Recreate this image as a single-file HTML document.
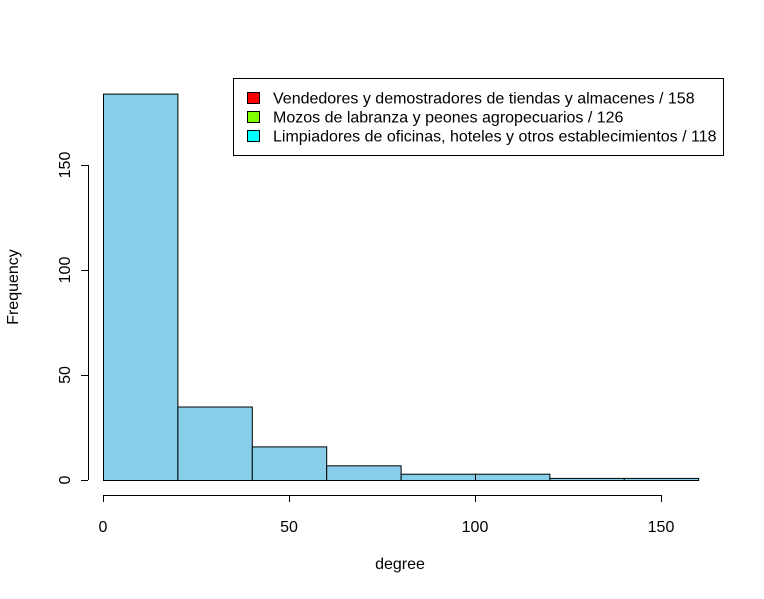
<!DOCTYPE html>
<html><head><meta charset="utf-8"><style>
body{margin:0;background:#fff;}
svg text{font-family:"Liberation Sans",Arial,sans-serif;fill:#000;}
</style></head><body>
<svg id="chart" width="764" height="594" xmlns="http://www.w3.org/2000/svg">
<rect width="764" height="594" fill="#fff"/>
<g id="bars"></g>
<g id="xaxis"></g>
<g id="yaxis"></g>
<text x="400" y="569" font-size="16" text-anchor="middle">degree</text>
<text transform="translate(18,287) rotate(-90)" font-size="16" text-anchor="middle">Frequency</text>
<g>
<rect x="233.5" y="78.5" width="490" height="77" fill="#fff" stroke="#000"/>
<g id="legend-entries"></g>
</g>
</svg>
<script>
const binStarts=[0,20,40,60,80,100,120,140];
const binWidth=20;
const counts=[184,35,16,7,3,3,1,1];
const xTicks=[0,50,100,150];
const yTicks=[0,50,100,150];
const legendLabels=["Vendedores y demostradores de tiendas y almacenes / 158","Mozos de labranza y peones agropecuarios / 126","Limpiadores de oficinas, hoteles y otros establecimientos / 118"];
const legendColors=["#ff0000","#80ff00","#00ffff"];
const NS="http://www.w3.org/2000/svg";
const xs=v=>103+v*3.72;
const ys=v=>480-v*2.1;
function mk(tag,attrs,parent){const e=document.createElementNS(NS,tag);for(const k in attrs)e.setAttribute(k,attrs[k]);parent.appendChild(e);return e;}
const bars=document.getElementById('bars');
binStarts.forEach((b,i)=>{
 const r=mk('rect',{x:xs(b)+0.5,y:ys(counts[i])+0.5,width:xs(b+binWidth)-xs(b),height:ys(0)-ys(counts[i]),fill:'#87ceeb',stroke:'#000'},bars);
 
 
});
const xa=document.getElementById('xaxis');
mk('line',{x1:xs(xTicks[0]),x2:xs(xTicks[xTicks.length-1]),y1:495.5,y2:495.5,stroke:'#000'},xa);
xTicks.forEach(t=>{
 mk('line',{x1:xs(t)+0.5,x2:xs(t)+0.5,y1:495,y2:502,stroke:'#000'},xa);
 const tx=mk('text',{x:xs(t),y:532,'font-size':16,'text-anchor':'middle'},xa);tx.textContent=t;
 
 
});
const ya=document.getElementById('yaxis');
mk('line',{x1:88.5,x2:88.5,y1:ys(yTicks[0]),y2:ys(yTicks[yTicks.length-1]),stroke:'#000'},ya);
yTicks.forEach(t=>{
 mk('line',{x1:81,x2:88,y1:ys(t)+0.5,y2:ys(t)+0.5,stroke:'#000'},ya);
 const tx=mk('text',{'font-size':16,'text-anchor':'middle',transform:`translate(70,${ys(t)}) rotate(-90)`},ya);tx.textContent=t;
 
 
});
const le=document.getElementById('legend-entries');
legendLabels.forEach((l,i)=>{
 const y=98+i*19;
 const sw=mk('rect',{x:247.5,y:y-5.5,width:12,height:11,fill:legendColors[i],stroke:'#000'},le);
 
 
 const tx=mk('text',{x:273,y:y+5.5,'font-size':16},le);tx.textContent=l;
 
 
});
</script>
</body></html>
